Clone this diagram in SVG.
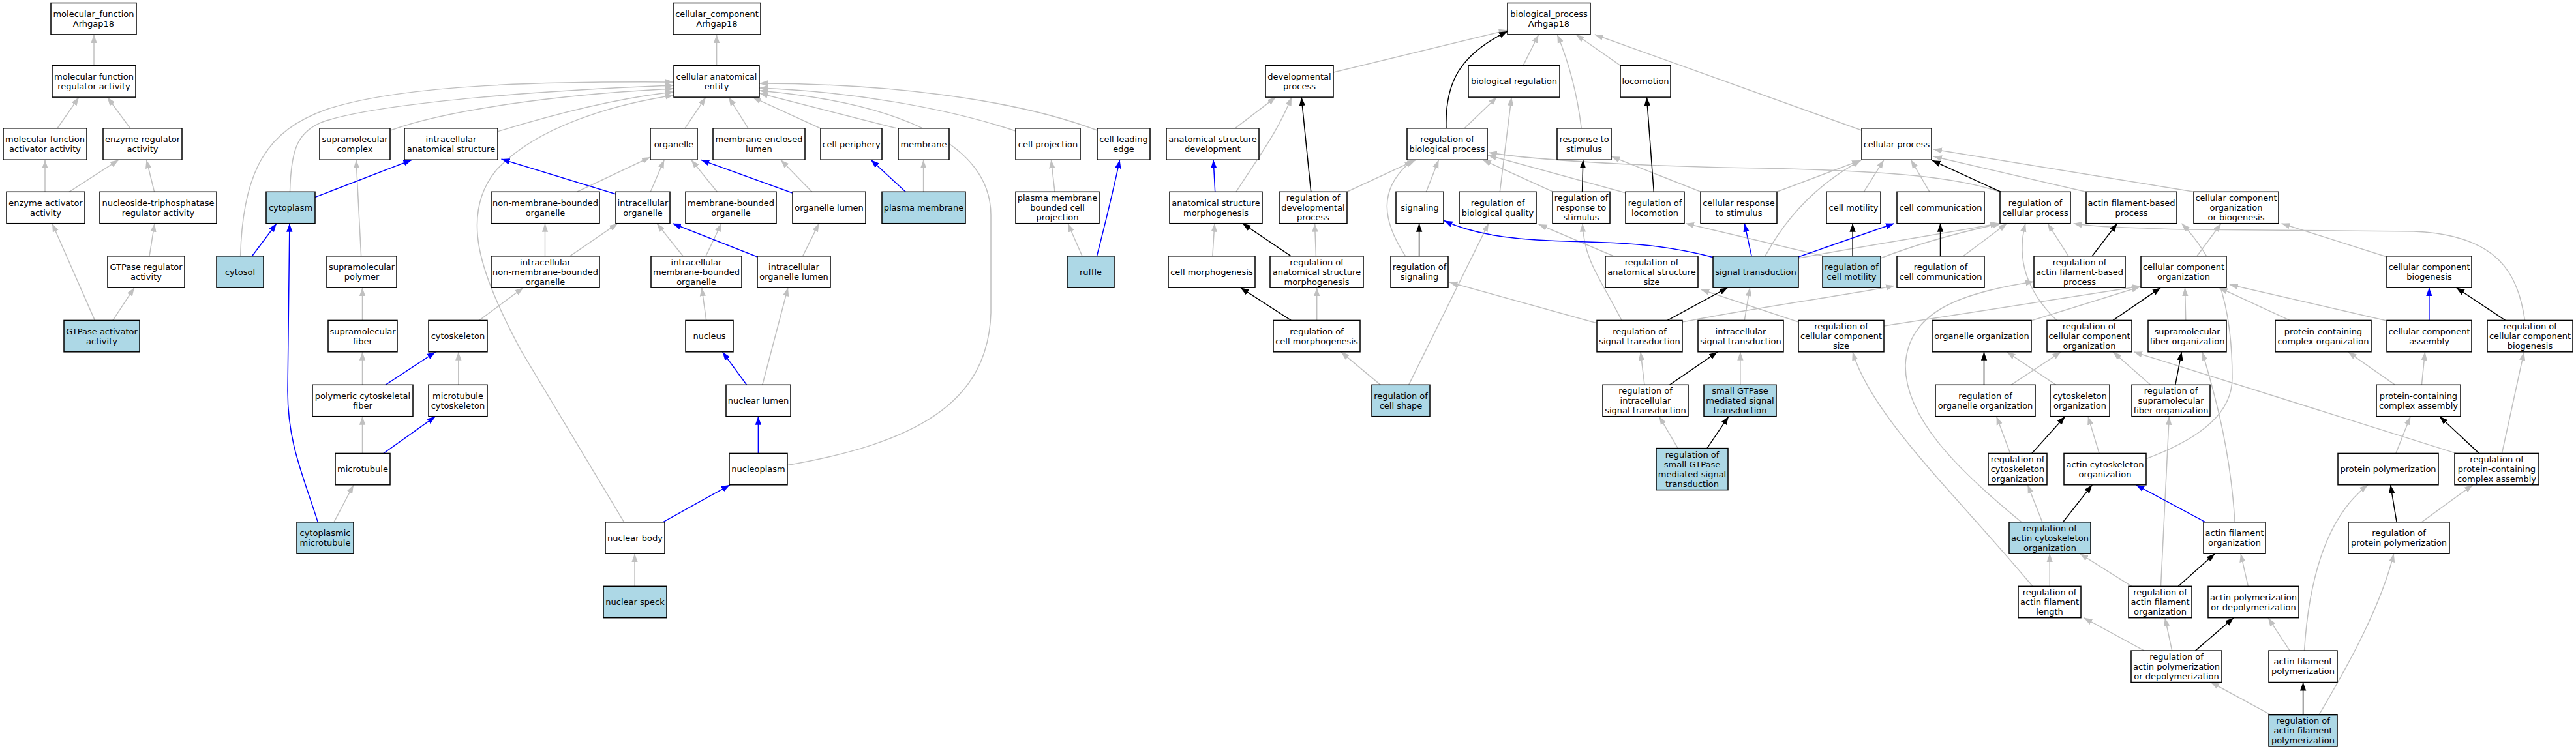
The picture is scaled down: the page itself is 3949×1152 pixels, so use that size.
<svg xmlns="http://www.w3.org/2000/svg" width="3949" height="1152" viewBox="0 0 3949 1152">
<defs>
<style>
.e{fill:none;stroke-width:1.5}
.g{stroke:#c0c0c0;marker-end:url(#ag)}
.k{stroke:#000;marker-end:url(#ak)}
.u{stroke:#0000ff;marker-end:url(#au)}
.n rect{fill:#fff;stroke:#000;stroke-width:1.5}
.n.b rect{fill:#add8e6}
text{font-family:"DejaVu Sans",sans-serif;font-size:13px;text-anchor:middle;fill:#000}
</style>
<marker id="ag" markerUnits="userSpaceOnUse" markerWidth="13" markerHeight="10" refX="13" refY="5" orient="auto"><path d="M0,0.3L13,5L0,9.7z" fill="#c0c0c0"/></marker>
<marker id="ak" markerUnits="userSpaceOnUse" markerWidth="13" markerHeight="10" refX="13" refY="5" orient="auto"><path d="M0,0.3L13,5L0,9.7z" fill="#000"/></marker>
<marker id="au" markerUnits="userSpaceOnUse" markerWidth="13" markerHeight="10" refX="13" refY="5" orient="auto"><path d="M0,0.3L13,5L0,9.7z" fill="#0000ff"/></marker>
</defs>
<rect width="3949" height="1152" fill="#fff"/>
<g id="edges" class="e">
<!-- molecular function -->
<path class="g" d="M144,100.7L144,53"/>
<path class="g" d="M88,196.8L121,149.1"/>
<path class="g" d="M199.6,196.8L164.5,149.1"/>
<path class="g" d="M69,294.3L69,245.2"/>
<path class="g" d="M106,294.3L182,245.2"/>
<path class="g" d="M236.6,294.3L224.5,245.2"/>
<path class="g" d="M229,392.8L237,342.7"/>
<path class="g" d="M145.4,491.4L80,342.7"/>
<path class="g" d="M173,491.4L206,441.2"/>
<!-- cellular component -->
<path class="g" d="M1098.6,100.7L1098.6,53"/>
<path class="g" d="M368.6,392.8C372,260 410,200 500,168C620,128 850,125 1033,126"/>
<path class="g" d="M444.5,294.3C446,230 455,200 500,185C600,155 850,138 1033,131"/>
<path class="g" d="M599.5,199.7C680,170 850,145 1033,136"/>
<path class="g" d="M763.4,201.6C850,175 950,150 1033,141"/>
<path class="g" d="M956.6,800.8L800,540C735,420 705,330 760,262C820,195 940,160 1033,146"/>
<path class="g" d="M884.6,294.3L997,241"/>
<path class="g" d="M835.5,392.8L835.5,342.7"/>
<path class="g" d="M873.7,392.8L947,342.7"/>
<path class="g" d="M553.6,392.8L546,245.2"/>
<path class="g" d="M555.5,491.4L555.5,441.2"/>
<path class="g" d="M734.7,491.4L802.3,441.2"/>
<path class="g" d="M555.5,590.3L555.5,539.8"/>
<path class="g" d="M702.8,590.3L702.8,539.8"/>
<path class="g" d="M555.5,695.4L555.5,638.7"/>
<path class="g" d="M512,800.8L542,743.8"/>
<path class="g" d="M973,899.3L973,849.2"/>
<path class="g" d="M1050,196.8L1082,149.1"/>
<path class="g" d="M1147,196.8L1117,149.1"/>
<path class="g" d="M1257.4,196.8L1153.5,149.1"/>
<path class="g" d="M1374,196.8L1164,143"/>
<path class="g" d="M1557,201C1450,165 1300,140 1164,135"/>
<path class="g" d="M1682,200C1550,150 1350,128 1164,128"/>
<path class="g" d="M1207,713.6C1400,680 1515,620 1519,480L1519,330C1519,230 1400,160 1164,139"/>
<path class="g" d="M997.2,294.3L1018.3,245.2"/>
<path class="g" d="M1099.3,294.3L1059.7,245.2"/>
<path class="g" d="M1244.7,294.3L1196.8,245.2"/>
<path class="g" d="M1415.6,294.3L1415.6,245.2"/>
<path class="g" d="M1617,294.3L1611.4,245.2"/>
<path class="g" d="M1659,392.8L1637,342.7"/>
<path class="g" d="M1047,392.8L1007,342.7"/>
<path class="g" d="M1082,392.8L1106,342.7"/>
<path class="g" d="M1230.6,392.8L1255.5,342.7"/>
<path class="g" d="M1082.7,491.4L1075.7,441.2"/>
<path class="g" d="M1168.8,590.3L1208,441.2"/>
<path class="u" d="M482.8,302.6L631.4,245.2"/>
<path class="u" d="M386.5,392.8L424,342.7"/>
<path class="u" d="M944,297.8L768.5,244"/>
<path class="u" d="M591,590.3L667.7,539.8"/>
<path class="u" d="M588,695.4L667.7,638.7"/>
<path class="u" d="M487.2,800.8C465,730 441,680 441,600L443.9,342.7"/>
<path class="u" d="M1016.4,800.8L1119,743.8"/>
<path class="u" d="M1214.7,296L1074.4,245.2"/>
<path class="u" d="M1388.2,294.3L1335.2,245.2"/>
<path class="u" d="M1681.5,392.8C1695,340 1705,300 1716.6,245.2"/>
<path class="u" d="M1161,394L1031,342.7"/>
<path class="u" d="M1144.5,590.3L1107.6,539.8"/>
<path class="u" d="M1162.4,695.4L1162.4,638.7"/>
<!-- biological process -->
<path class="u" d="M1862.7,294.3L1860.1,245.2"/>
<path class="g" d="M1893.3,196.8L1955.8,149.1"/>
<path class="g" d="M1895,294.3C1930,240 1960,200 1980,149.1"/>
<path class="g" d="M2065,294.3L2170.5,245.2"/>
<path class="g" d="M2017.4,392.8L2015.5,342.7"/>
<path class="g" d="M1858.8,392.8L1862,342.7"/>
<path class="g" d="M2018.7,491.4L2018.7,441.2"/>
<path class="g" d="M2116.3,590.3L2055.7,539.8"/>
<path class="g" d="M2159.6,590.3L2282,342.7"/>
<path class="g" d="M2044.2,111L2310.8,46.2"/>
<path class="g" d="M2335,100.7L2358.6,53"/>
<path class="g" d="M2484.2,100.7L2416,53"/>
<path class="g" d="M2854.1,200L2444.7,53"/>
<path class="g" d="M2424.3,196.8Q2415,120 2387.3,53"/>
<path class="g" d="M2245.1,196.8L2294.8,149.1"/>
<path class="g" d="M2299.3,294.3L2317.1,149.1"/>
<path class="g" d="M2380.9,294.3L2273,245.2"/>
<path class="g" d="M2492.5,296L2281,238"/>
<path class="g" d="M3065.7,294.3C3000,272 2900,262 2700,258C2500,255 2350,245 2282,234"/>
<path class="g" d="M2186.4,294.3L2205.5,245.2"/>
<path class="g" d="M2154.5,392.8C2120,340 2110,290 2166,245.2"/>
<path class="g" d="M2473.4,392.8L2358.6,344"/>
<path class="g" d="M2795.5,392.8L2584,342.7"/>
<path class="g" d="M2607.3,294.3L2470.2,240"/>
<path class="g" d="M2724,294.3L2852,246"/>
<path class="g" d="M2706,392.8C2740,330 2790,280 2853,246"/>
<path class="g" d="M2857.3,294.3L2888,245.2"/>
<path class="g" d="M2958,294.3L2929.4,245.2"/>
<path class="g" d="M3197.7,294.3L2964,240"/>
<path class="g" d="M3363.5,294.3L2964,229"/>
<path class="g" d="M2757.2,396C2900,370 3000,355 3064,342.7"/>
<path class="g" d="M2883,396C2950,370 3010,355 3068,342.7"/>
<path class="g" d="M3009.6,392.8L3076.6,342.7"/>
<path class="g" d="M3171,392.8L3139,342.7"/>
<path class="g" d="M3870.6,491.4C3860,420 3830,360 3700,355L3350,352C3270,350 3210,348 3178.6,342.7"/>
<path class="g" d="M2447.9,495.7L2221.5,432.8"/>
<path class="g" d="M2486,491.4C2455,430 2428,400 2426,342.7"/>
<path class="g" d="M2578.6,494C2700,470 2850,450 2904,438.3"/>
<path class="g" d="M2674.3,491.4L2682.6,441.2"/>
<path class="g" d="M2757.2,494L2607.3,444"/>
<path class="g" d="M2888,500L3282,439"/>
<path class="g" d="M3098.9,800.8C3000,720 2920,640 2921,560C2925,480 3000,450 3118,432"/>
<path class="g" d="M3116,899.3C3000,760 2870,640 2840,539.8"/>
<path class="g" d="M3368,392.8L3405,342.7"/>
<path class="g" d="M3658.8,394L3497.5,342.7"/>
<path class="g" d="M3658.8,492L3417.8,436.5"/>
<path class="g" d="M3153,491.4C3110,450 3090,400 3105,342.7"/>
<path class="g" d="M3350.8,491.4L3349.5,441.2"/>
<path class="g" d="M3510.2,491.4L3401.8,441.2"/>
<path class="g" d="M3113.5,492L3280.6,440"/>
<path class="g" d="M3083,590.3L3159.5,539.8"/>
<path class="g" d="M3151.8,590.3L3076.6,539.8"/>
<path class="g" d="M3296.6,590.3L3239.2,539.8"/>
<path class="g" d="M3426,800.8C3420,700 3400,620 3376,539.8"/>
<path class="g" d="M3765.3,695.4L3271,539.8"/>
<path class="g" d="M3290.2,703.6C3380,670 3422,630 3422,580C3422,450 3390,390 3344.4,342.7"/>
<path class="g" d="M3671.6,590.3L3599.5,539.8"/>
<path class="g" d="M3712.4,590.3L3717.5,539.8"/>
<path class="g" d="M3835.5,695.4L3869.3,539.8"/>
<path class="g" d="M3081.7,695.4L3060.6,638.7"/>
<path class="g" d="M3218.1,695.4L3200.9,638.7"/>
<path class="g" d="M3672.9,695.4L3695.2,638.7"/>
<path class="g" d="M3130.8,800.8L3108.4,743.8"/>
<path class="g" d="M3712.4,800.8L3790.8,743.8"/>
<path class="g" d="M3142.2,899.3L3142.2,849.2"/>
<path class="g" d="M3267.9,899.3L3188.2,849.2"/>
<path class="g" d="M3312.5,899.3L3325.3,638.7"/>
<path class="g" d="M3446.4,899.3L3435,849.2"/>
<path class="g" d="M3287,998.1L3194.5,947.7"/>
<path class="g" d="M3329.7,998.1L3318.9,947.7"/>
<path class="g" d="M3510.2,998.1L3477,947.7"/>
<path class="g" d="M3532.5,998.1C3540,880 3570,790 3630,743.8"/>
<path class="g" d="M3481.5,1096.6L3389,1046.5"/>
<path class="g" d="M3554.9,1096.6C3600,1020 3650,930 3669.7,849.2"/>
<path class="g" d="M2521,590.3L2515,539.8"/>
<path class="g" d="M2667.9,590.3L2667.9,539.8"/>
<path class="g" d="M2572.2,687.6L2543.5,638.7"/>
<path class="k" d="M2217,196.8C2215,130 2235,85 2311,48"/>
<path class="k" d="M2009.7,294.3L1995.1,149.1"/>
<path class="k" d="M1979.1,392.8L1904.7,342.7"/>
<path class="k" d="M1979.1,491.4L1901.5,441.2"/>
<path class="k" d="M2535.3,294.3L2524.4,149.1"/>
<path class="k" d="M2425.6,294.3L2426.8,245.2"/>
<path class="k" d="M2175.6,392.8L2175.6,342.7"/>
<path class="k" d="M2840.1,392.8L2840.1,342.7"/>
<path class="k" d="M2974.5,392.8L2974.5,342.7"/>
<path class="k" d="M2556.3,491.4L2648.8,441.2"/>
<path class="k" d="M2559.5,590.3L2632.8,539.8"/>
<path class="k" d="M2616.9,687.6L2650,638.7"/>
<path class="k" d="M3067,294.3L2961.8,246"/>
<path class="k" d="M3207.3,392.8L3245.6,342.7"/>
<path class="k" d="M3239.2,491.4L3312.5,441.2"/>
<path class="k" d="M3840.6,491.4L3765.3,441.2"/>
<path class="k" d="M3041.5,590.3L3041.5,539.8"/>
<path class="k" d="M3334.8,590.3L3344.4,539.8"/>
<path class="k" d="M3114.8,695.4L3165.8,638.7"/>
<path class="k" d="M3800.4,695.4L3739.8,638.7"/>
<path class="k" d="M3162.6,800.8L3207.3,743.8"/>
<path class="k" d="M3674.1,800.8L3664.6,743.8"/>
<path class="k" d="M3339.3,899.3L3395.4,849.2"/>
<path class="k" d="M3365.5,998.1L3424.1,947.7"/>
<path class="k" d="M3530.6,1096.6L3530.6,1046.5"/>
<path class="u" d="M2626.4,394.7C2540,372 2470,372 2400,370C2320,368 2260,360 2213.8,338.5"/>
<path class="u" d="M2685.1,392.8L2674.3,342.7"/>
<path class="u" d="M2757.2,394L2903.9,342.7"/>
<path class="u" d="M3723.9,491.4L3723.9,441.2"/>
<path class="u" d="M3380.8,800.8L3274.3,743.8"/>
</g>
<g id="nodes">
<g id="mf_root" class="n"><rect x="78" y="4.5" width="131" height="48.4"/><text x="143.5" y="25.7">molecular_function</text><text x="143.5" y="40.7">Arhgap18</text></g>
<g id="mfra" class="n"><rect x="80" y="100.7" width="128" height="48.4"/><text x="144" y="121.9">molecular function</text><text x="144" y="136.9">regulator activity</text></g>
<g id="mfaa" class="n"><rect x="5" y="196.8" width="128" height="48.4"/><text x="69" y="218">molecular function</text><text x="69" y="233">activator activity</text></g>
<g id="era" class="n"><rect x="158" y="196.8" width="121" height="48.4"/><text x="218.5" y="218">enzyme regulator</text><text x="218.5" y="233">activity</text></g>
<g id="eaa" class="n"><rect x="10" y="294.3" width="120" height="48.4"/><text x="70" y="315.5">enzyme activator</text><text x="70" y="330.5">activity</text></g>
<g id="ntpra" class="n"><rect x="153" y="294.3" width="179" height="48.4"/><text x="242.5" y="315.5">nucleoside-triphosphatase</text><text x="242.5" y="330.5">regulator activity</text></g>
<g id="gtpra" class="n"><rect x="165" y="392.8" width="118" height="48.4"/><text x="224" y="414">GTPase regulator</text><text x="224" y="429">activity</text></g>
<g id="gtpaa" class="n b"><rect x="98" y="491.4" width="116" height="48.4"/><text x="156" y="512.6">GTPase activator</text><text x="156" y="527.6">activity</text></g>

<g id="cc_root" class="n"><rect x="1032" y="4.5" width="134" height="48.4"/><text x="1099" y="25.7">cellular_component</text><text x="1099" y="40.7">Arhgap18</text></g>
<g id="cae" class="n"><rect x="1033" y="100.7" width="131" height="48.4"/><text x="1098.5" y="121.9">cellular anatomical</text><text x="1098.5" y="136.9">entity</text></g>
<g id="supcomplex" class="n"><rect x="490" y="196.8" width="108" height="48.4"/><text x="544" y="218">supramolecular</text><text x="544" y="233">complex</text></g>
<g id="ias" class="n"><rect x="620" y="196.8" width="143" height="48.4"/><text x="691.5" y="218">intracellular</text><text x="691.5" y="233">anatomical structure</text></g>
<g id="organelle" class="n"><rect x="997" y="196.8" width="72" height="48.4"/><text x="1033" y="225.5">organelle</text></g>
<g id="mel" class="n"><rect x="1093" y="196.8" width="141" height="48.4"/><text x="1163.5" y="218">membrane-enclosed</text><text x="1163.5" y="233">lumen</text></g>
<g id="cellper" class="n"><rect x="1258" y="196.8" width="94" height="48.4"/><text x="1305" y="225.5">cell periphery</text></g>
<g id="membrane" class="n"><rect x="1377" y="196.8" width="78" height="48.4"/><text x="1416" y="225.5">membrane</text></g>
<g id="cellproj" class="n"><rect x="1557" y="196.8" width="99" height="48.4"/><text x="1606.5" y="225.5">cell projection</text></g>
<g id="cle" class="n"><rect x="1682" y="196.8" width="81" height="48.4"/><text x="1722.5" y="218">cell leading</text><text x="1722.5" y="233">edge</text></g>
<g id="cytoplasm" class="n b"><rect x="408" y="294.3" width="75" height="48.4"/><text x="445.5" y="323">cytoplasm</text></g>
<g id="nmbo" class="n"><rect x="753" y="294.3" width="166" height="48.4"/><text x="836" y="315.5">non-membrane-bounded</text><text x="836" y="330.5">organelle</text></g>
<g id="io" class="n"><rect x="944" y="294.3" width="83" height="48.4"/><text x="985.5" y="315.5">intracellular</text><text x="985.5" y="330.5">organelle</text></g>
<g id="mbo" class="n"><rect x="1051" y="294.3" width="139" height="48.4"/><text x="1120.5" y="315.5">membrane-bounded</text><text x="1120.5" y="330.5">organelle</text></g>
<g id="ol" class="n"><rect x="1215" y="294.3" width="112" height="48.4"/><text x="1271" y="323">organelle lumen</text></g>
<g id="pm" class="n b"><rect x="1352" y="294.3" width="128" height="48.4"/><text x="1416" y="323">plasma membrane</text></g>
<g id="pmbcp" class="n"><rect x="1557" y="294.3" width="128" height="48.4"/><text x="1621" y="308">plasma membrane</text><text x="1621" y="323">bounded cell</text><text x="1621" y="338">projection</text></g>
<g id="cytosol" class="n b"><rect x="332" y="392.8" width="72" height="48.4"/><text x="368" y="421.5">cytosol</text></g>
<g id="suppoly" class="n"><rect x="501" y="392.8" width="107" height="48.4"/><text x="554.5" y="414">supramolecular</text><text x="554.5" y="429">polymer</text></g>
<g id="inmbo" class="n"><rect x="753" y="392.8" width="166" height="48.4"/><text x="836" y="406.5">intracellular</text><text x="836" y="421.5">non-membrane-bounded</text><text x="836" y="436.5">organelle</text></g>
<g id="imbo" class="n"><rect x="998" y="392.8" width="139" height="48.4"/><text x="1067.5" y="406.5">intracellular</text><text x="1067.5" y="421.5">membrane-bounded</text><text x="1067.5" y="436.5">organelle</text></g>
<g id="iol" class="n"><rect x="1161" y="392.8" width="112" height="48.4"/><text x="1217" y="414">intracellular</text><text x="1217" y="429">organelle lumen</text></g>
<g id="ruffle" class="n b"><rect x="1636" y="392.8" width="72" height="48.4"/><text x="1672" y="421.5">ruffle</text></g>
<g id="supfiber" class="n"><rect x="503" y="491.4" width="106" height="48.4"/><text x="556" y="512.6">supramolecular</text><text x="556" y="527.6">fiber</text></g>
<g id="cytoskeleton" class="n"><rect x="657" y="491.4" width="90" height="48.4"/><text x="702" y="520.1">cytoskeleton</text></g>
<g id="nucleus" class="n"><rect x="1051" y="491.4" width="73" height="48.4"/><text x="1087.5" y="520.1">nucleus</text></g>
<g id="pcf" class="n"><rect x="479" y="590.3" width="154" height="48.4"/><text x="556" y="611.5">polymeric cytoskeletal</text><text x="556" y="626.5">fiber</text></g>
<g id="mtcs" class="n"><rect x="657" y="590.3" width="90" height="48.4"/><text x="702" y="611.5">microtubule</text><text x="702" y="626.5">cytoskeleton</text></g>
<g id="nlumen" class="n"><rect x="1113" y="590.3" width="99" height="48.4"/><text x="1162.5" y="619">nuclear lumen</text></g>
<g id="microtubule" class="n"><rect x="514" y="695.4" width="84" height="48.4"/><text x="556" y="724.1">microtubule</text></g>
<g id="nucleoplasm" class="n"><rect x="1118" y="695.4" width="89" height="48.4"/><text x="1162.5" y="724.1">nucleoplasm</text></g>
<g id="cmt" class="n b"><rect x="455" y="800.8" width="87" height="48.4"/><text x="498.5" y="822">cytoplasmic</text><text x="498.5" y="837">microtubule</text></g>
<g id="nbody" class="n"><rect x="928" y="800.8" width="91" height="48.4"/><text x="973.5" y="829.5">nuclear body</text></g>
<g id="nspeck" class="n b"><rect x="925" y="899.3" width="97" height="48.4"/><text x="973.5" y="928">nuclear speck</text></g>

<g id="bp_root" class="n"><rect x="2311" y="4.5" width="127" height="48.4"/><text x="2374.5" y="25.7">biological_process</text><text x="2374.5" y="40.7">Arhgap18</text></g>
<g id="devproc" class="n"><rect x="1940" y="100.7" width="104" height="48.4"/><text x="1992" y="121.9">developmental</text><text x="1992" y="136.9">process</text></g>
<g id="bioreg" class="n"><rect x="2251" y="100.7" width="140" height="48.4"/><text x="2321" y="129.4">biological regulation</text></g>
<g id="locomotion" class="n"><rect x="2484" y="100.7" width="77" height="48.4"/><text x="2522.5" y="129.4">locomotion</text></g>
<g id="asd" class="n"><rect x="1788" y="196.8" width="142" height="48.4"/><text x="1859" y="218">anatomical structure</text><text x="1859" y="233">development</text></g>
<g id="rbp" class="n"><rect x="2157" y="196.8" width="123" height="48.4"/><text x="2218.5" y="218">regulation of</text><text x="2218.5" y="233">biological process</text></g>
<g id="rts" class="n"><rect x="2387" y="196.8" width="83" height="48.4"/><text x="2428.5" y="218">response to</text><text x="2428.5" y="233">stimulus</text></g>
<g id="cellproc" class="n"><rect x="2854" y="196.8" width="107" height="48.4"/><text x="2907.5" y="225.5">cellular process</text></g>
<g id="asm" class="n"><rect x="1793" y="294.3" width="142" height="48.4"/><text x="1864" y="315.5">anatomical structure</text><text x="1864" y="330.5">morphogenesis</text></g>
<g id="rdp" class="n"><rect x="1961" y="294.3" width="104" height="48.4"/><text x="2013" y="308">regulation of</text><text x="2013" y="323">developmental</text><text x="2013" y="338">process</text></g>
<g id="signaling" class="n"><rect x="2140" y="294.3" width="73" height="48.4"/><text x="2176.5" y="323">signaling</text></g>
<g id="rbq" class="n"><rect x="2237" y="294.3" width="118" height="48.4"/><text x="2296" y="315.5">regulation of</text><text x="2296" y="330.5">biological quality</text></g>
<g id="rrs" class="n"><rect x="2380" y="294.3" width="88" height="48.4"/><text x="2424" y="308">regulation of</text><text x="2424" y="323">response to</text><text x="2424" y="338">stimulus</text></g>
<g id="rloc" class="n"><rect x="2492" y="294.3" width="90" height="48.4"/><text x="2537" y="315.5">regulation of</text><text x="2537" y="330.5">locomotion</text></g>
<g id="crs" class="n"><rect x="2607" y="294.3" width="117" height="48.4"/><text x="2665.5" y="315.5">cellular response</text><text x="2665.5" y="330.5">to stimulus</text></g>
<g id="cellmot" class="n"><rect x="2800" y="294.3" width="83" height="48.4"/><text x="2841.5" y="323">cell motility</text></g>
<g id="cellcomm" class="n"><rect x="2908" y="294.3" width="134" height="48.4"/><text x="2975" y="323">cell communication</text></g>
<g id="rcp" class="n"><rect x="3066" y="294.3" width="108" height="48.4"/><text x="3120" y="315.5">regulation of</text><text x="3120" y="330.5">cellular process</text></g>
<g id="afbp" class="n"><rect x="3198" y="294.3" width="139" height="48.4"/><text x="3267.5" y="315.5">actin filament-based</text><text x="3267.5" y="330.5">process</text></g>
<g id="ccob" class="n"><rect x="3363" y="294.3" width="130" height="48.4"/><text x="3428" y="308">cellular component</text><text x="3428" y="323">organization</text><text x="3428" y="338">or biogenesis</text></g>
<g id="cm" class="n"><rect x="1791" y="392.8" width="133" height="48.4"/><text x="1857.5" y="421.5">cell morphogenesis</text></g>
<g id="rasm" class="n"><rect x="1947" y="392.8" width="143" height="48.4"/><text x="2018.5" y="406.5">regulation of</text><text x="2018.5" y="421.5">anatomical structure</text><text x="2018.5" y="436.5">morphogenesis</text></g>
<g id="rsig" class="n"><rect x="2132" y="392.8" width="88" height="48.4"/><text x="2176" y="414">regulation of</text><text x="2176" y="429">signaling</text></g>
<g id="rass" class="n"><rect x="2461" y="392.8" width="142" height="48.4"/><text x="2532" y="406.5">regulation of</text><text x="2532" y="421.5">anatomical structure</text><text x="2532" y="436.5">size</text></g>
<g id="st" class="n b"><rect x="2626" y="392.8" width="131" height="48.4"/><text x="2691.5" y="421.5">signal transduction</text></g>
<g id="rcm" class="n b"><rect x="2794" y="392.8" width="89" height="48.4"/><text x="2838.5" y="414">regulation of</text><text x="2838.5" y="429">cell motility</text></g>
<g id="rcc" class="n"><rect x="2908" y="392.8" width="134" height="48.4"/><text x="2975" y="414">regulation of</text><text x="2975" y="429">cell communication</text></g>
<g id="rafbp" class="n"><rect x="3118" y="392.8" width="140" height="48.4"/><text x="3188" y="406.5">regulation of</text><text x="3188" y="421.5">actin filament-based</text><text x="3188" y="436.5">process</text></g>
<g id="cco" class="n"><rect x="3282" y="392.8" width="131" height="48.4"/><text x="3347.5" y="414">cellular component</text><text x="3347.5" y="429">organization</text></g>
<g id="ccb" class="n"><rect x="3659" y="392.8" width="130" height="48.4"/><text x="3724" y="414">cellular component</text><text x="3724" y="429">biogenesis</text></g>
<g id="rcmorph" class="n"><rect x="1952" y="491.4" width="133" height="48.4"/><text x="2018.5" y="512.6">regulation of</text><text x="2018.5" y="527.6">cell morphogenesis</text></g>
<g id="rst" class="n"><rect x="2448" y="491.4" width="131" height="48.4"/><text x="2513.5" y="512.6">regulation of</text><text x="2513.5" y="527.6">signal transduction</text></g>
<g id="ist" class="n"><rect x="2603" y="491.4" width="131" height="48.4"/><text x="2668.5" y="512.6">intracellular</text><text x="2668.5" y="527.6">signal transduction</text></g>
<g id="rccs" class="n"><rect x="2757" y="491.4" width="131" height="48.4"/><text x="2822.5" y="505.1">regulation of</text><text x="2822.5" y="520.1">cellular component</text><text x="2822.5" y="535.1">size</text></g>
<g id="oo" class="n"><rect x="2962" y="491.4" width="152" height="48.4"/><text x="3038" y="520.1">organelle organization</text></g>
<g id="rcco" class="n"><rect x="3138" y="491.4" width="130" height="48.4"/><text x="3203" y="505.1">regulation of</text><text x="3203" y="520.1">cellular component</text><text x="3203" y="535.1">organization</text></g>
<g id="sfo" class="n"><rect x="3293" y="491.4" width="120" height="48.4"/><text x="3353" y="512.6">supramolecular</text><text x="3353" y="527.6">fiber organization</text></g>
<g id="pcco" class="n"><rect x="3488" y="491.4" width="147" height="48.4"/><text x="3561.5" y="512.6">protein-containing</text><text x="3561.5" y="527.6">complex organization</text></g>
<g id="cca" class="n"><rect x="3659" y="491.4" width="130" height="48.4"/><text x="3724" y="512.6">cellular component</text><text x="3724" y="527.6">assembly</text></g>
<g id="rccb" class="n"><rect x="3813" y="491.4" width="131" height="48.4"/><text x="3878.5" y="505.1">regulation of</text><text x="3878.5" y="520.1">cellular component</text><text x="3878.5" y="535.1">biogenesis</text></g>
<g id="rcs" class="n b"><rect x="2103" y="590.3" width="89" height="48.4"/><text x="2147.5" y="611.5">regulation of</text><text x="2147.5" y="626.5">cell shape</text></g>
<g id="rist" class="n"><rect x="2457" y="590.3" width="131" height="48.4"/><text x="2522.5" y="604">regulation of</text><text x="2522.5" y="619">intracellular</text><text x="2522.5" y="634">signal transduction</text></g>
<g id="sgmst" class="n b"><rect x="2612" y="590.3" width="111" height="48.4"/><text x="2667.5" y="604">small GTPase</text><text x="2667.5" y="619">mediated signal</text><text x="2667.5" y="634">transduction</text></g>
<g id="roo" class="n"><rect x="2967" y="590.3" width="153" height="48.4"/><text x="3043.5" y="611.5">regulation of</text><text x="3043.5" y="626.5">organelle organization</text></g>
<g id="cso" class="n"><rect x="3143" y="590.3" width="91" height="48.4"/><text x="3188.5" y="611.5">cytoskeleton</text><text x="3188.5" y="626.5">organization</text></g>
<g id="rsfo" class="n"><rect x="3268" y="590.3" width="120" height="48.4"/><text x="3328" y="604">regulation of</text><text x="3328" y="619">supramolecular</text><text x="3328" y="634">fiber organization</text></g>
<g id="pcca" class="n"><rect x="3643" y="590.3" width="129" height="48.4"/><text x="3707.5" y="611.5">protein-containing</text><text x="3707.5" y="626.5">complex assembly</text></g>
<g id="rsgmst" class="n b"><rect x="2539" y="687.6" width="110" height="64"/><text x="2594" y="701.6">regulation of</text><text x="2594" y="716.6">small GTPase</text><text x="2594" y="731.6">mediated signal</text><text x="2594" y="746.6">transduction</text></g>
<g id="rcso" class="n"><rect x="3048" y="695.4" width="90" height="48.4"/><text x="3093" y="709.1">regulation of</text><text x="3093" y="724.1">cytoskeleton</text><text x="3093" y="739.1">organization</text></g>
<g id="aco" class="n"><rect x="3164" y="695.4" width="126" height="48.4"/><text x="3227" y="716.6">actin cytoskeleton</text><text x="3227" y="731.6">organization</text></g>
<g id="pp" class="n"><rect x="3584" y="695.4" width="154" height="48.4"/><text x="3661" y="724.1">protein polymerization</text></g>
<g id="rpcca" class="n"><rect x="3763" y="695.4" width="129" height="48.4"/><text x="3827.5" y="709.1">regulation of</text><text x="3827.5" y="724.1">protein-containing</text><text x="3827.5" y="739.1">complex assembly</text></g>
<g id="raco" class="n b"><rect x="3080" y="800.8" width="125" height="48.4"/><text x="3142.5" y="814.5">regulation of</text><text x="3142.5" y="829.5">actin cytoskeleton</text><text x="3142.5" y="844.5">organization</text></g>
<g id="afo" class="n"><rect x="3378" y="800.8" width="95" height="48.4"/><text x="3425.5" y="822">actin filament</text><text x="3425.5" y="837">organization</text></g>
<g id="rpp" class="n"><rect x="3600" y="800.8" width="155" height="48.4"/><text x="3677.5" y="822">regulation of</text><text x="3677.5" y="837">protein polymerization</text></g>
<g id="rafl" class="n"><rect x="3094" y="899.3" width="96" height="48.4"/><text x="3142" y="913">regulation of</text><text x="3142" y="928">actin filament</text><text x="3142" y="943">length</text></g>
<g id="rafo" class="n"><rect x="3263" y="899.3" width="97" height="48.4"/><text x="3311.5" y="913">regulation of</text><text x="3311.5" y="928">actin filament</text><text x="3311.5" y="943">organization</text></g>
<g id="apd" class="n"><rect x="3385" y="899.3" width="139" height="48.4"/><text x="3454.5" y="920.5">actin polymerization</text><text x="3454.5" y="935.5">or depolymerization</text></g>
<g id="rapd" class="n"><rect x="3267" y="998.1" width="139" height="48.4"/><text x="3336.5" y="1011.8">regulation of</text><text x="3336.5" y="1026.8">actin polymerization</text><text x="3336.5" y="1041.8">or depolymerization</text></g>
<g id="afp" class="n"><rect x="3478" y="998.1" width="105" height="48.4"/><text x="3530.5" y="1019.3">actin filament</text><text x="3530.5" y="1034.3">polymerization</text></g>
<g id="rafp" class="n b"><rect x="3478" y="1096.6" width="105" height="48.4"/><text x="3530.5" y="1110.3">regulation of</text><text x="3530.5" y="1125.3">actin filament</text><text x="3530.5" y="1140.3">polymerization</text></g>
</g>
</svg>
